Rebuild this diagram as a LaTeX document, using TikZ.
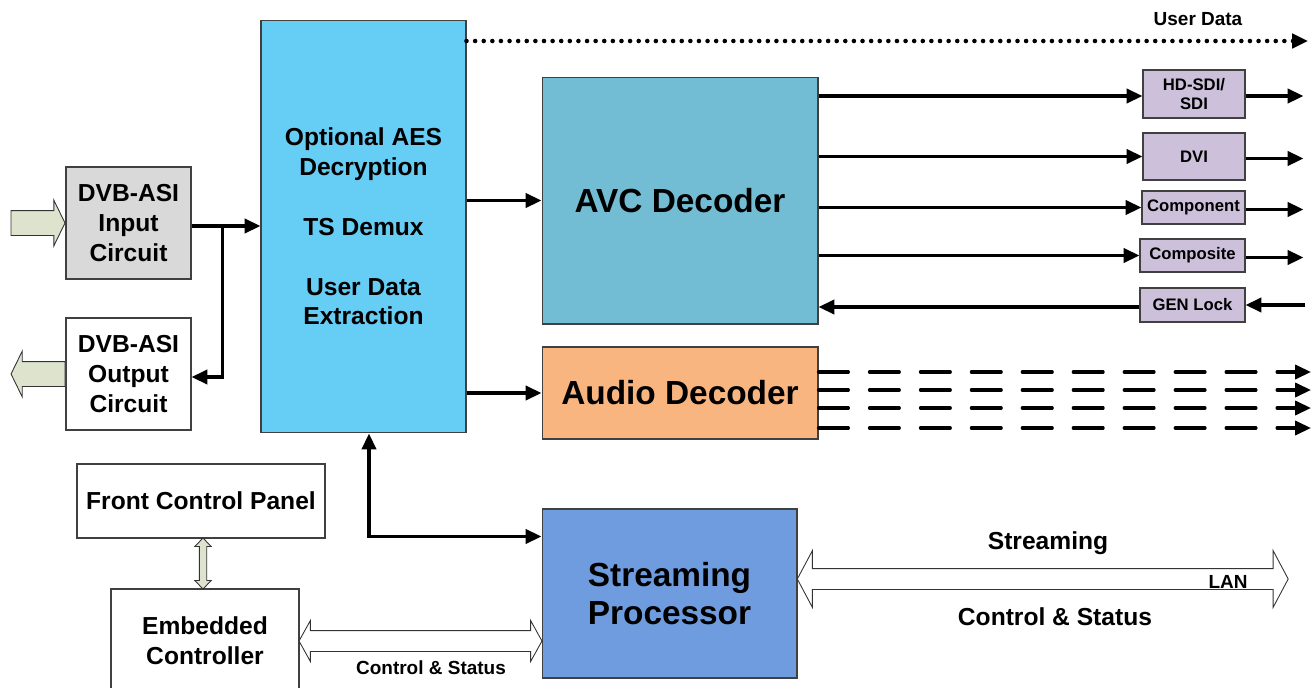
\documentclass[tikz,border=0pt]{standalone}
\usepackage{fontspec}
\setmainfont{Liberation Sans}
\usetikzlibrary{shapes.arrows, arrows.meta, calc}

\definecolor{ingray}{RGB}{217,217,217}
\definecolor{demuxblue}{RGB}{102,205,245}
\definecolor{avcteal}{RGB}{114,189,212}
\definecolor{audioorange}{RGB}{248,181,127}
\definecolor{streamblue}{RGB}{111,156,222}
\definecolor{portlilac}{RGB}{204,192,218}
\definecolor{feedgreen}{RGB}{221,227,204}

\tikzstyle{block} = [draw=black!75, line width=0.6pt, inner sep=0pt, align=center, font=\fontsize{14}{17}\selectfont\bfseries]
\tikzstyle{bigblock} = [block, font=\fontsize{19}{21.5}\selectfont\bfseries]
\tikzstyle{port} = [block, fill=portlilac, minimum width=2.04cm, font=\fontsize{9.5}{10.5}\selectfont\bfseries]
\tikzstyle{arrow} = [line width=2pt, -{Triangle[length=9pt,width=8pt]}]
\tikzstyle{hollow} = [draw=black!80, line width=0.5pt, inner xsep=0pt, fill=white]
\tikzstyle{label} = [inner sep=0pt, font=\fontsize{14}{17}\selectfont\bfseries]
\tikzstyle{smalllabel} = [inner sep=0pt, font=\fontsize{10.8}{12}\selectfont\bfseries]

\begin{document}
\begin{tikzpicture}[x=0.02cm, y=-0.02cm]
\useasboundingbox (0,0) rectangle (1316,687);

% blocks
\node[block, fill=ingray, minimum width=2.5cm, minimum height=2.24cm] (asiin) at (128.5,223) {DVB-ASI\\Input\\Circuit};
\node[block, minimum width=2.5cm, minimum height=2.24cm] (asiout) at (128.5,374) {DVB-ASI\\Output\\Circuit};
\node[block, fill=demuxblue, minimum width=4.1cm, minimum height=8.26cm] (demux) at (363.5,226.5)
    {Optional AES\\Decryption\\[17pt]TS Demux\\[17pt]User Data\\Extraction};
\node[bigblock, fill=avcteal, minimum width=5.52cm, minimum height=4.94cm] (avc) at (680,200.5) {AVC Decoder};
\node[bigblock, fill=audioorange, minimum width=5.52cm, minimum height=1.84cm] (audio) at (680,393) {Audio Decoder};
\node[bigblock, fill=streamblue, minimum width=5.1cm, minimum height=3.38cm] (stream) at (669.5,593.5) {Streaming\\Processor};
\node[block, minimum width=4.96cm, minimum height=1.48cm] (panel) at (201,501) {Front Control Panel};
\node[block, minimum width=3.76cm, minimum height=2.08cm] (ctrl) at (205,641) {Embedded\\Controller};

% video / sync ports
\node[port, minimum height=0.96cm] (sdi) at (1194,94) {HD-SDI/\\SDI};
\node[port, minimum height=0.94cm] (dvi) at (1194,156.5) {DVI};
\node[port, minimum width=2.06cm, minimum height=0.66cm] (component) at (1193.5,207.5) {Component};
\node[port, minimum width=2.1cm, minimum height=0.66cm] (composite) at (1192.5,255.5) {Composite};
\node[port, minimum width=2.1cm, minimum height=0.68cm] (genlock) at (1192.5,305) {GEN Lock};

% ASI in and out
\node[hollow, single arrow, fill=feedgreen, minimum height=1.08cm, inner ysep=0.24cm,
      single arrow head extend=0.21cm, single arrow tip angle=128, anchor=tip] (feedin) at (asiin.west) {};
\node[hollow, single arrow, fill=feedgreen, minimum height=1.08cm, inner ysep=0.24cm,
      single arrow head extend=0.21cm, single arrow tip angle=128, shape border rotate=180, anchor=tail] (feedout) at (asiout.west) {};

\coordinate (split) at ($(asiin.east)+(31,3)$);
\draw[line width=2pt] ($(asiin.east)+(0,3)$) -- (split);
\draw[arrow] (split) -- (demux.west |- split);
\draw[arrow] (split) |- ($(asiout.east)+(0,3)$);

% demux outputs
\coordinate (udend) at (1308,41);
\draw[arrow, line cap=round, dash pattern=on 0pt off 4.9pt, line width=2.6pt] (demux.east |- udend) -- (udend);
\node[smalllabel] (udlabel) at (1198,19) {User Data};
\draw[arrow] (demux.east |- avc.west) -- (avc.west);
\draw[arrow] (demux.east |- audio.west) -- (audio.west);
\draw[arrow, {Triangle[length=9pt,width=8pt]}-{Triangle[length=9pt,width=8pt]}]
    ($(demux.south)+(5.5,0)$) |- ($(stream.north west)+(0,28)$);

% video outputs
\draw[arrow] ($(avc.east |- sdi.west)+(0,2)$) -- ($(sdi.west)+(0,2)$);
\draw[arrow] (avc.east |- dvi.west) -- (dvi.west);
\draw[arrow] (avc.east |- component.west) -- (component.west);
\draw[arrow] (avc.east |- composite.west) -- (composite.west);
\foreach \p in {sdi, dvi, component, composite}
    \draw[arrow] ($(\p.east)+(0,2)$) -- ($(\p.east)+(58,2)$);
\draw[arrow] (1305,305) -- (genlock.east);
\draw[arrow] ($(genlock.west)+(0,2)$) -- ($(avc.east |- genlock.west)+(0,2)$);

% audio channels
\foreach \y in {372,390,408,428}
    \draw[arrow, line cap=round, dash pattern=on 17pt off 12pt, line width=1.8pt] (audio.east |- 0,\y) -- (1311,\y);

% control links
\node[hollow, double arrow, fill=feedgreen, minimum height=1.02cm, inner ysep=0.065cm,
      double arrow head extend=0.09cm, double arrow tip angle=88, rotate=90] (panellink)
      at ($(panel.south)!0.5!(ctrl.north)$) {};
\node[hollow, double arrow, minimum height=4.86cm, inner ysep=0.2cm,
      double arrow head extend=0.2cm, double arrow tip angle=122] (ctrllink)
      at ($(ctrl.east)!0.5!(stream.west |- ctrl.east)$) {};
\node[smalllabel] (ctrllabel) at (431,668) {Control \& Status};

\coordinate (lanend) at (1288,579);
\node[hollow, double arrow, minimum height=9.82cm, inner ysep=0.2cm,
      double arrow head extend=0.36cm, double arrow tip angle=124] (lan)
      at ($(stream.east |- lanend)!0.5!(lanend)$) {};
\node[label] (streamlabel) at (1048,543) {Streaming};
\node[smalllabel] (lanlabel) at (1228,582) {LAN};
\node[label] (statuslabel) at (1055,617) {Control \& Status};

\end{tikzpicture}
\end{document}
